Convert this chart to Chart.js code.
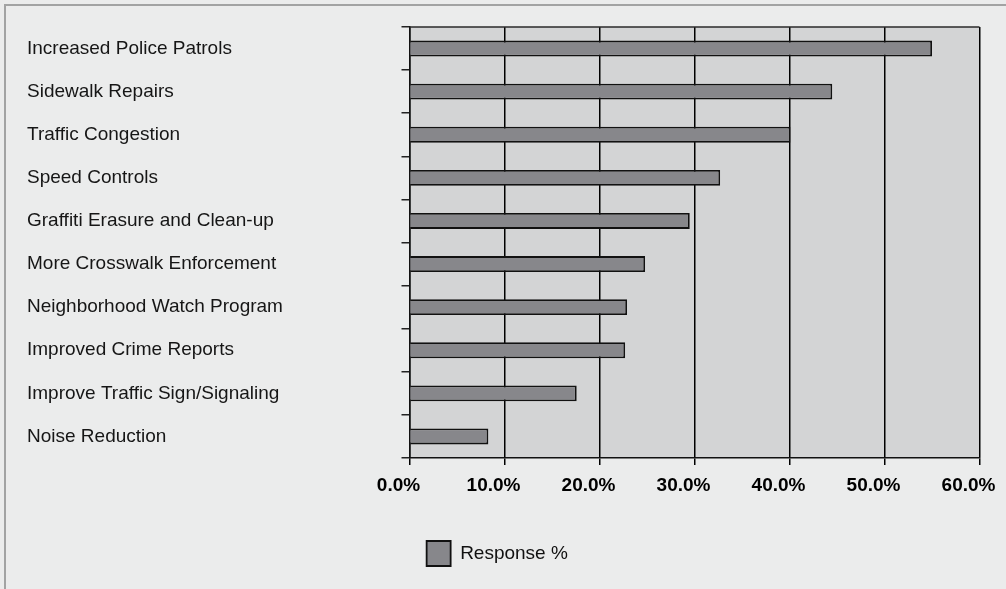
<!DOCTYPE html>
<html>
<head>
<meta charset="utf-8">
<script src="https://cdn.jsdelivr.net/npm/chart.js@4/dist/chart.umd.min.js"></script>
<style>
    html, body { margin: 0; padding: 0; background: #ebecec; }
    #frame {
        position: absolute; left: 4px; top: 4px; width: 1010px; height: 600px;
        border-left: 2px solid #a2a3a3; border-top: 2px solid #a2a3a3;
    }
    #wrap { position: absolute; left: 0; top: 0; width: 1006px; height: 589px; }
</style>
</head>
<body>
<div id="frame"></div>
<div id="wrap"><canvas id="chart"></canvas></div>
<script>
const categories = [
    'Increased Police Patrols',
    'Sidewalk Repairs',
    'Traffic Congestion',
    'Speed Controls',
    'Graffiti Erasure and Clean-up',
    'More Crosswalk Enforcement',
    'Neighborhood Watch Program',
    'Improved Crime Reports',
    'Improve Traffic Sign/Signaling',
    'Noise Reduction'
];
const responsePct = [55.0, 44.5, 40.1, 32.7, 29.5, 24.8, 22.9, 22.7, 17.6, 8.3];
const seriesLabel = 'Response %';
const xTicks = [0, 10, 20, 30, 40, 50, 60];

const FONT = '"Liberation Sans", Arial, Helvetica, sans-serif';

// grey plot background plus the dark top edge
const plotBackground = {
    id: 'plotBackground',
    beforeDraw(chart) {
        const { ctx, chartArea: a } = chart;
        ctx.save();
        ctx.fillStyle = '#d3d4d5';
        ctx.fillRect(a.left, a.top, a.right - a.left, a.bottom - a.top);
        ctx.restore();
    },
    afterDraw(chart) {
        const { ctx, chartArea: a } = chart;
        ctx.save();
        ctx.strokeStyle = '#2a2a2a';
        ctx.lineWidth = 1.5;
        ctx.beginPath();
        ctx.moveTo(a.left, a.top);
        ctx.lineTo(a.right, a.top);
        ctx.stroke();
        ctx.restore();
    }
};

// nudge the legend a bit left of centre, as in the original
const legendShift = {
    id: 'legendShift',
    afterLayout(chart) {
        if (chart.legend) chart.legend.left -= 12;
    }
};

new Chart(document.getElementById('chart'), {
    type: 'bar',
    data: {
        labels: categories,
        datasets: [{
            label: seriesLabel,
            data: responsePct,
            backgroundColor: '#87878b',
            borderColor: '#111',
            borderWidth: 1.8,
            barPercentage: 0.37,
            categoryPercentage: 1
        }]
    },
    options: {
        indexAxis: 'y',
        responsive: true,
        maintainAspectRatio: false,
        animation: false,
        layout: { padding: { top: 27, left: 27, right: 26.5, bottom: 13 } },
        plugins: {
            legend: {
                position: 'bottom',
                labels: {
                    boxWidth: 24,
                    boxHeight: 25,
                    padding: 10,
                    color: '#111',
                    font: { family: FONT, size: 19 }
                }
            },
            tooltip: { enabled: false }
        },
        scales: {
            x: {
                min: 0,
                max: 60,
                afterBuildTicks: (scale) => { scale.ticks = xTicks.map(v => ({ value: v })); },
                afterFit: (scale) => {
                    scale.height = 73;
                    scale.paddingLeft = 0;
                    scale.paddingRight = 0;
                },
                grid: { color: '#000', lineWidth: 1.5, tickLength: 7 },
                border: { color: '#111', width: 1.5 },
                ticks: {
                    padding: 9,
                    labelOffset: -11,
                    color: '#000',
                    font: { family: FONT, size: 19, weight: 'bold' },
                    callback: (v) => Number(v).toFixed(1) + '%'
                }
            },
            y: {
                afterFit: (scale) => {
                    scale.width = 382.5;
                    scale.paddingTop = 0;
                    scale.paddingBottom = 0;
                },
                grid: {
                    offset: true,
                    drawOnChartArea: false,
                    color: '#222',
                    lineWidth: 1.5,
                    tickLength: 8
                },
                border: { color: '#111', width: 1.5 },
                ticks: {
                    crossAlign: 'far',
                    color: '#161616',
                    font: { family: FONT, size: 19 }
                }
            }
        }
    },
    plugins: [plotBackground, legendShift]
});
</script>
</body>
</html>
